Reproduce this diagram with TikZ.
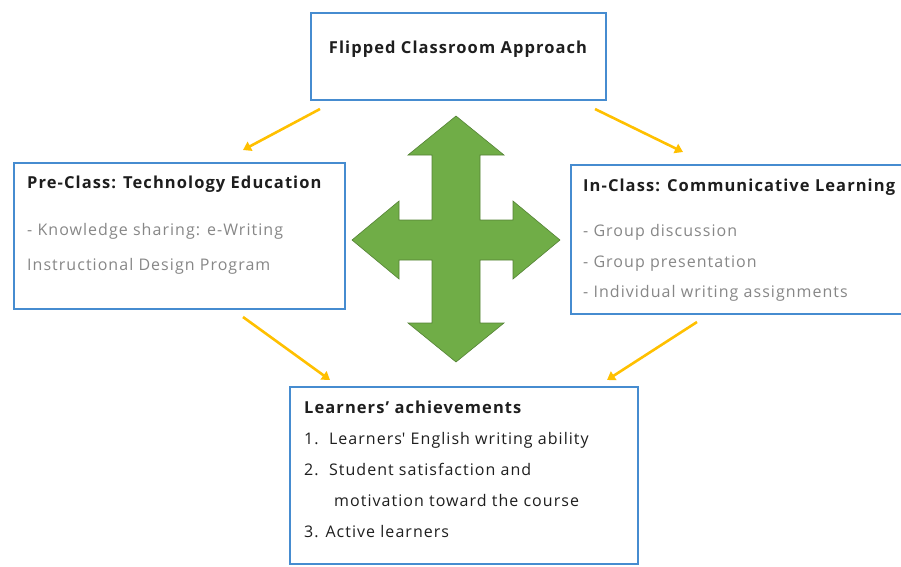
\documentclass[tikz,border=0pt]{standalone}
\usepackage{fontspec}
\setmainfont{Open Sans}[LetterSpace=6.5]
\usetikzlibrary{arrows.meta}
\definecolor{boxblue}{RGB}{70,140,208}
\definecolor{bodygray}{RGB}{135,135,135}
\definecolor{headink}{RGB}{30,30,30}
\definecolor{flowgold}{RGB}{255,192,0}
\definecolor{crossfill}{RGB}{112,173,71}
\definecolor{crossedge}{RGB}{84,130,53}
\tikzset{
  panel/.style={draw=boxblue, line width=1.8pt, fill=white, rectangle, inner sep=0pt, anchor=north west},
  headtxt/.style={anchor=base west, inner sep=0pt, font=\fontsize{16.5}{19}\selectfont\bfseries, text=headink},
  greytxt/.style={anchor=base west, inner sep=0pt, font=\fontsize{16}{19}\selectfont, text=bodygray},
  darktxt/.style={anchor=base west, inner sep=0pt, font=\fontsize{16}{19}\selectfont, text=headink},
  flow/.style={draw=flowgold, line width=2.6pt, -{Triangle[width=10pt,length=8pt]}},
}
\begin{document}
\begin{tikzpicture}[x=1pt, y=-1pt]
\useasboundingbox (0,0) rectangle (901,566);

% boxes
\node[panel, minimum width=295pt, minimum height=87pt] (approach) at (310,12) {};
\node[panel, minimum width=331pt, minimum height=146pt] (preclass) at (13,162) {};
\node[panel, minimum width=335pt, minimum height=149pt] (inclass) at (570,164) {};
\node[panel, minimum width=348pt, minimum height=177pt] (achieve) at (289,386) {};

% box texts
\node[headtxt, anchor=base] (t0) at (458,53) {Flipped Classroom Approach};

\node[headtxt] (t1) at (27,188) {Pre-Class: Technology Education};
\node[greytxt] (t1a) at (27,235) {- Knowledge sharing: e-Writing};
\node[greytxt] (t1b) at (27,270) {Instructional Design Program};

\node[headtxt] (t2) at (583,191) {In-Class: Communicative Learning};
\node[greytxt] (t2a) at (583,236) {- Group discussion};
\node[greytxt] (t2b) at (583,267) {- Group presentation};
\node[greytxt] (t2c) at (583,297) {- Individual writing assignments};

\node[headtxt] (t3) at (304,413) {Learners’ achievements};
\node[darktxt] (t3a) at (304,444) {1.\ \ Learners\textquotesingle{} English writing ability};
\node[darktxt] (t3b) at (304,475) {2.\ \ Student satisfaction and};
\node[darktxt] (t3c) at (334,506) {motivation toward the course};
\node[darktxt] (t3d) at (304,537) {3. Active learners};

% connector end points
\coordinate (a1s) at (320,109);
\coordinate (a1e) at (243,150);
\coordinate (a2s) at (595,109);
\coordinate (a2e) at (683,152);
\coordinate (a3s) at (243,317);
\coordinate (a3e) at (330,380);
\coordinate (a4s) at (697,322);
\coordinate (a4e) at (607,380);

\draw[flow] (a1s) -- (a1e);
\draw[flow] (a2s) -- (a2e);
\draw[flow] (a3s) -- (a3e);
\draw[flow] (a4s) -- (a4e);

% four-way arrow
\draw[fill=crossfill, draw=crossedge, line width=0.6pt, line join=miter]
  (456,116) -- (504,155) -- (480,155) -- (480,220) -- (513,220) -- (513,201)
  -- (560,240) -- (513,279) -- (513,260) -- (480,260) -- (480,323) -- (504,323)
  -- (456,362) -- (408,323) -- (432,323) -- (432,260) -- (399,260) -- (399,279)
  -- (352,240) -- (399,201) -- (399,220) -- (432,220) -- (432,155) -- (408,155)
  -- cycle;
\end{tikzpicture}
\end{document}
